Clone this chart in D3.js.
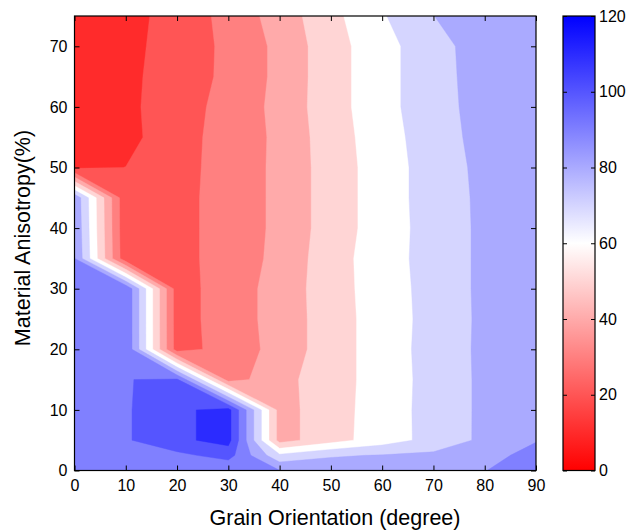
<!DOCTYPE html>
<html><head><meta charset="utf-8">
<script src="https://cdn.jsdelivr.net/npm/d3@7/dist/d3.min.js"></script>
<style>
body{margin:0;background:#fff;}
text{font-family:"Liberation Sans",Arial,Helvetica,sans-serif;}
</style>
</head><body>
<svg id="chart" width="630" height="530"></svg>
<script>
// ---- data ----
const xValues = [0,10,20,30,40,50,60,70,80,90];            // Grain orientation (degree)
const yValues = [0,2.5,5,10,15,20,25,30,35,40,45,50,55,60,65,70,75]; // Material anisotropy (%)
const levels  = [0,10,20,30,40,50,60,70,80,90,100,110,120];
const xTicks  = [0,10,20,30,40,50,60,70,80,90];
const yTicks  = [0,10,20,30,40,50,60,70];
const cbTicks = [0,20,40,60,80,100,120];

// one row per anisotropy value, columns follow xValues
const row_y0   = [93, 95, 92, 91, 90.2, 86, 87, 86.5, 89.7, 96];
const row_y2_5 = [94, 96, 97.5, 104, 72, 79, 80.5, 82, 87, 93];
const row_y5   = [94, 98.9, 107.9, 113.5, 46, 56, 65, 73.5, 82.2, 89.5];
const row_y10  = [94, 98.9, 107.9, 113.5, 46, 56, 64.5, 74, 82, 86];
const row_y15  = [95, 99.7, 101.6, 35.5, 46.5, 56, 64, 74, 82, 86];
const row_y20  = [95, 99, 25, 35, 43, 56, 64, 74.5, 82, 86];
const row_y25  = [95, 99, 24.8, 36, 43, 56, 64, 74, 82, 86];
const row_y30  = [95, 99, 24.8, 36, 43, 56.5, 64, 74.5, 82, 86];
const row_y35  = [90.2, 22.5, 26.5, 34.5, 42.5, 56, 65, 74.5, 82, 86];
const row_y40  = [89, 22, 26.5, 34.5, 42, 55, 64.5, 74.5, 82, 86];
const row_y45  = [88, 22, 26.5, 34.5, 42, 55, 64.5, 75, 82, 86];
const row_y50  = [18, 20.1, 26, 34.5, 42, 55, 64.5, 75, 82.5, 86];
const row_y55  = [13, 17, 26, 34, 42, 55.5, 65, 76, 83, 86];
const row_y60  = [12, 17.5, 26, 33, 43, 56, 66, 77, 83, 86];
const row_y65  = [12, 17.5, 25, 32, 42.5, 56, 66, 77, 83.5, 86];
const row_y70  = [12, 17, 24.5, 32, 42.5, 56, 66, 77, 84, 87];
const row_y75  = [12, 16.5, 24, 33, 44.5, 57, 69, 79.9, 85, 87];

const rows = [row_y0,row_y2_5,row_y5,row_y10,row_y15,row_y20,row_y25,row_y30,
              row_y35,row_y40,row_y45,row_y50,row_y55,row_y60,row_y65,row_y70,row_y75];

// ---- layout ----
const P = {left:74.5, right:536, top:16, bottom:470.5};
const CB = {left:563, right:595, top:16, bottom:470.5};

const svg = d3.select("#chart");
const x = d3.scaleLinear().domain([0,90]).range([P.left,P.right]);
const y = d3.scaleLinear().domain([0,75]).range([P.bottom,P.top]);
const color = d3.scaleLinear().domain([0,60,120]).range(["#ff0000","#ffffff","#0000ff"]);

// grid index -> data coordinate (piecewise linear)
const nx = xValues.length, ny = yValues.length;
const gx = d3.scaleLinear().domain(d3.range(nx)).range(xValues);
const gy = d3.scaleLinear().domain(d3.range(ny)).range(yValues);
const proj = d3.geoTransform({point:function(px,py){
  this.stream.point(x(gx(px-0.5)), y(gy(py-0.5)));
}});
const path = d3.geoPath(proj);

const values = rows.flat();
const contours = d3.contours().size([nx,ny]).thresholds(levels)(values);

svg.append("defs").append("clipPath").attr("id","plotclip")
  .append("rect").attr("x",P.left).attr("y",P.top)
  .attr("width",P.right-P.left).attr("height",P.bottom-P.top);

svg.append("g").attr("clip-path","url(#plotclip)")
  .selectAll("path").data(contours).join("path")
  .attr("d",path)
  .attr("fill",d=>color(d.value))
  .attr("stroke",d=>color(d.value))
  .attr("stroke-width",0.4);

// ---- axes ----
const fs = 16;
const axB = svg.append("g").attr("transform",`translate(0,${P.bottom})`)
  .call(d3.axisBottom(x).tickValues(xTicks).tickSizeInner(-5).tickSizeOuter(0).tickPadding(9).tickFormat(d3.format("d")));
const axL = svg.append("g").attr("transform",`translate(${P.left},0)`)
  .call(d3.axisLeft(y).tickValues(yTicks).tickSizeInner(-5).tickSizeOuter(0).tickPadding(7).tickFormat(d3.format("d")));
const axT = svg.append("g").attr("transform",`translate(0,${P.top})`)
  .call(d3.axisTop(x).tickValues(xTicks).tickSizeInner(-5).tickSizeOuter(0).tickFormat(""));
const axR = svg.append("g").attr("transform",`translate(${P.right},0)`)
  .call(d3.axisRight(y).tickValues(yTicks).tickSizeInner(-5).tickSizeOuter(0).tickFormat(""));
[axB,axL,axT,axR].forEach(a=>{
  a.select(".domain").remove();
  a.selectAll("line").attr("stroke","#000");
  a.selectAll("text").attr("font-size",fs).attr("fill","#000").style("font-family",'"Liberation Sans",Arial,sans-serif');
});
svg.append("rect").attr("x",P.left).attr("y",P.top)
  .attr("width",P.right-P.left).attr("height",P.bottom-P.top)
  .attr("fill","none").attr("stroke","#000").attr("stroke-width",1.2);

svg.append("text").attr("x",335).attr("y",525)
  .attr("text-anchor","middle").attr("font-size",21.5).text("Grain Orientation (degree)");
svg.append("text").attr("transform",`translate(30,238) rotate(-90)`)
  .attr("text-anchor","middle").attr("font-size",21.5).text("Material Anisotropy(%)");

// ---- colorbar ----
const cbScale = d3.scaleLinear().domain([0,120]).range([CB.bottom,CB.top]);
const grad = svg.select("defs").append("linearGradient").attr("id","cbgrad")
  .attr("x1",0).attr("y1",1).attr("x2",0).attr("y2",0);
[0,60,120].forEach(v=>grad.append("stop").attr("offset",v/120).attr("stop-color",color(v)));
svg.append("rect").attr("x",CB.left).attr("y",CB.top)
  .attr("width",CB.right-CB.left).attr("height",CB.bottom-CB.top)
  .attr("fill","url(#cbgrad)");
const axCB = svg.append("g").attr("transform",`translate(${CB.right},0)`)
  .call(d3.axisRight(cbScale).tickValues(cbTicks).tickSizeInner(-4).tickSizeOuter(0).tickPadding(4));
const axCBL = svg.append("g").attr("transform",`translate(${CB.left},0)`)
  .call(d3.axisLeft(cbScale).tickValues(cbTicks).tickSizeInner(-4).tickSizeOuter(0).tickFormat(""));
[axCB,axCBL].forEach(a=>{
  a.select(".domain").remove();
  a.selectAll("line").attr("stroke","#000");
  a.selectAll("text").attr("font-size",fs).attr("fill","#000").style("font-family",'"Liberation Sans",Arial,sans-serif');
});
svg.append("rect").attr("x",CB.left).attr("y",CB.top)
  .attr("width",CB.right-CB.left).attr("height",CB.bottom-CB.top)
  .attr("fill","none").attr("stroke","#000").attr("stroke-width",1.2);
</script>
</body></html>
